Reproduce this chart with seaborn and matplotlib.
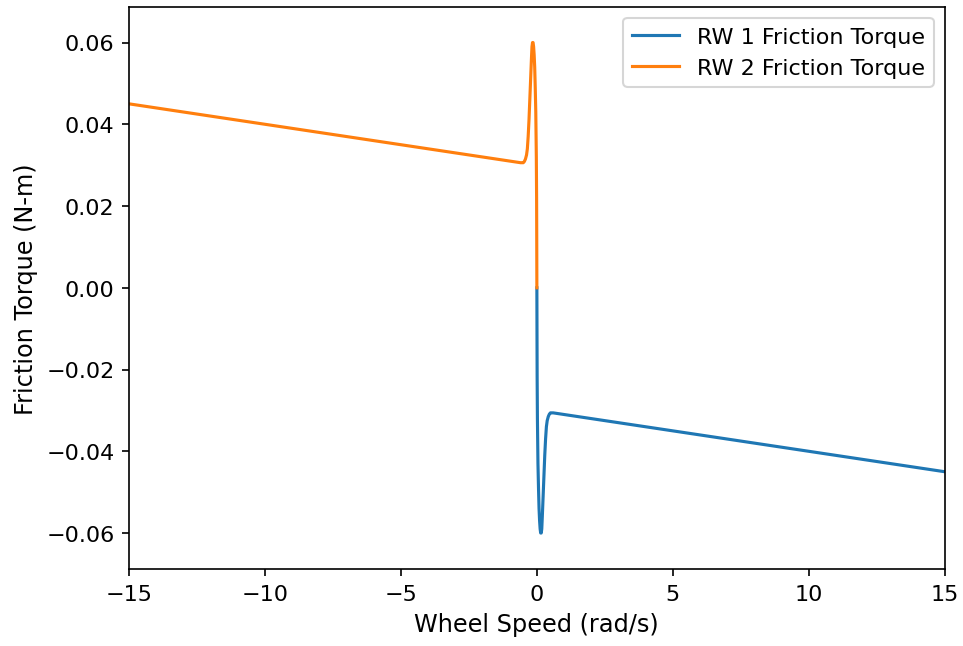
import numpy as np
import pandas as pd
import seaborn as sns
import matplotlib
matplotlib.use("Agg")
import matplotlib.pyplot as plt

# RW 1: positive wheel speeds (rad/s) and friction torque (N-m)
rw1_speed = [0.0, 0.005, 0.01, 0.02, 0.04, 0.06, 0.08, 0.10, 0.12, 0.14, 0.16,
             0.18, 0.20, 0.23, 0.26, 0.29, 0.32, 0.35, 0.38, 0.42, 0.46, 0.50,
             0.55, 0.60, 15.0]
rw1_torque = [0.0, -0.012, -0.022, -0.032, -0.043, -0.049, -0.054, -0.057,
              -0.059, -0.060, -0.060, -0.059, -0.056, -0.051, -0.046, -0.041,
              -0.037, -0.034, -0.0325, -0.0315, -0.0309, -0.0306, -0.0306,
              -0.0306, -0.045]

# RW 2: negative wheel speeds (rad/s) and friction torque (N-m)
rw2_speed = [-15.0, -0.60, -0.55, -0.50, -0.46, -0.42, -0.38, -0.35, -0.32,
             -0.29, -0.26, -0.23, -0.20, -0.18, -0.16, -0.14, -0.12, -0.10,
             -0.08, -0.06, -0.04, -0.02, -0.01, -0.005, 0.0]
rw2_torque = [0.045, 0.0306, 0.0306, 0.0306, 0.0309, 0.0315, 0.0325, 0.034,
              0.037, 0.041, 0.046, 0.051, 0.056, 0.059, 0.060, 0.060, 0.059,
              0.057, 0.054, 0.049, 0.043, 0.032, 0.022, 0.012, 0.0]

df1 = pd.DataFrame({"speed": rw1_speed, "torque": rw1_torque})
df2 = pd.DataFrame({"speed": rw2_speed, "torque": rw2_torque})

TICKSIZE = 10.7
LABELSIZE = 11.5

fig, ax = plt.subplots(figsize=(6.42, 4.313), dpi=150)
fig.subplots_adjust(left=0.134, right=0.981, top=0.9884, bottom=0.119)

sns.lineplot(data=df1, x="speed", y="torque", ax=ax, color="tab:blue",
             linewidth=1.5, label="RW 1 Friction Torque", sort=False)
sns.lineplot(data=df2, x="speed", y="torque", ax=ax, color="tab:orange",
             linewidth=1.5, label="RW 2 Friction Torque", sort=False)

ax.set_xlim(-15, 15)
ax.set_ylim(-0.0688, 0.0688)
ax.set_yticks([-0.06, -0.04, -0.02, 0.0, 0.02, 0.04, 0.06])
ax.tick_params(labelsize=TICKSIZE)
ax.set_xlabel("Wheel Speed (rad/s)", fontsize=LABELSIZE)
ax.set_ylabel("Friction Torque (N-m)", fontsize=LABELSIZE)
ax.legend(loc="upper right", fontsize=TICKSIZE, handlelength=2.1)

fig.savefig("out.png", dpi=150)
